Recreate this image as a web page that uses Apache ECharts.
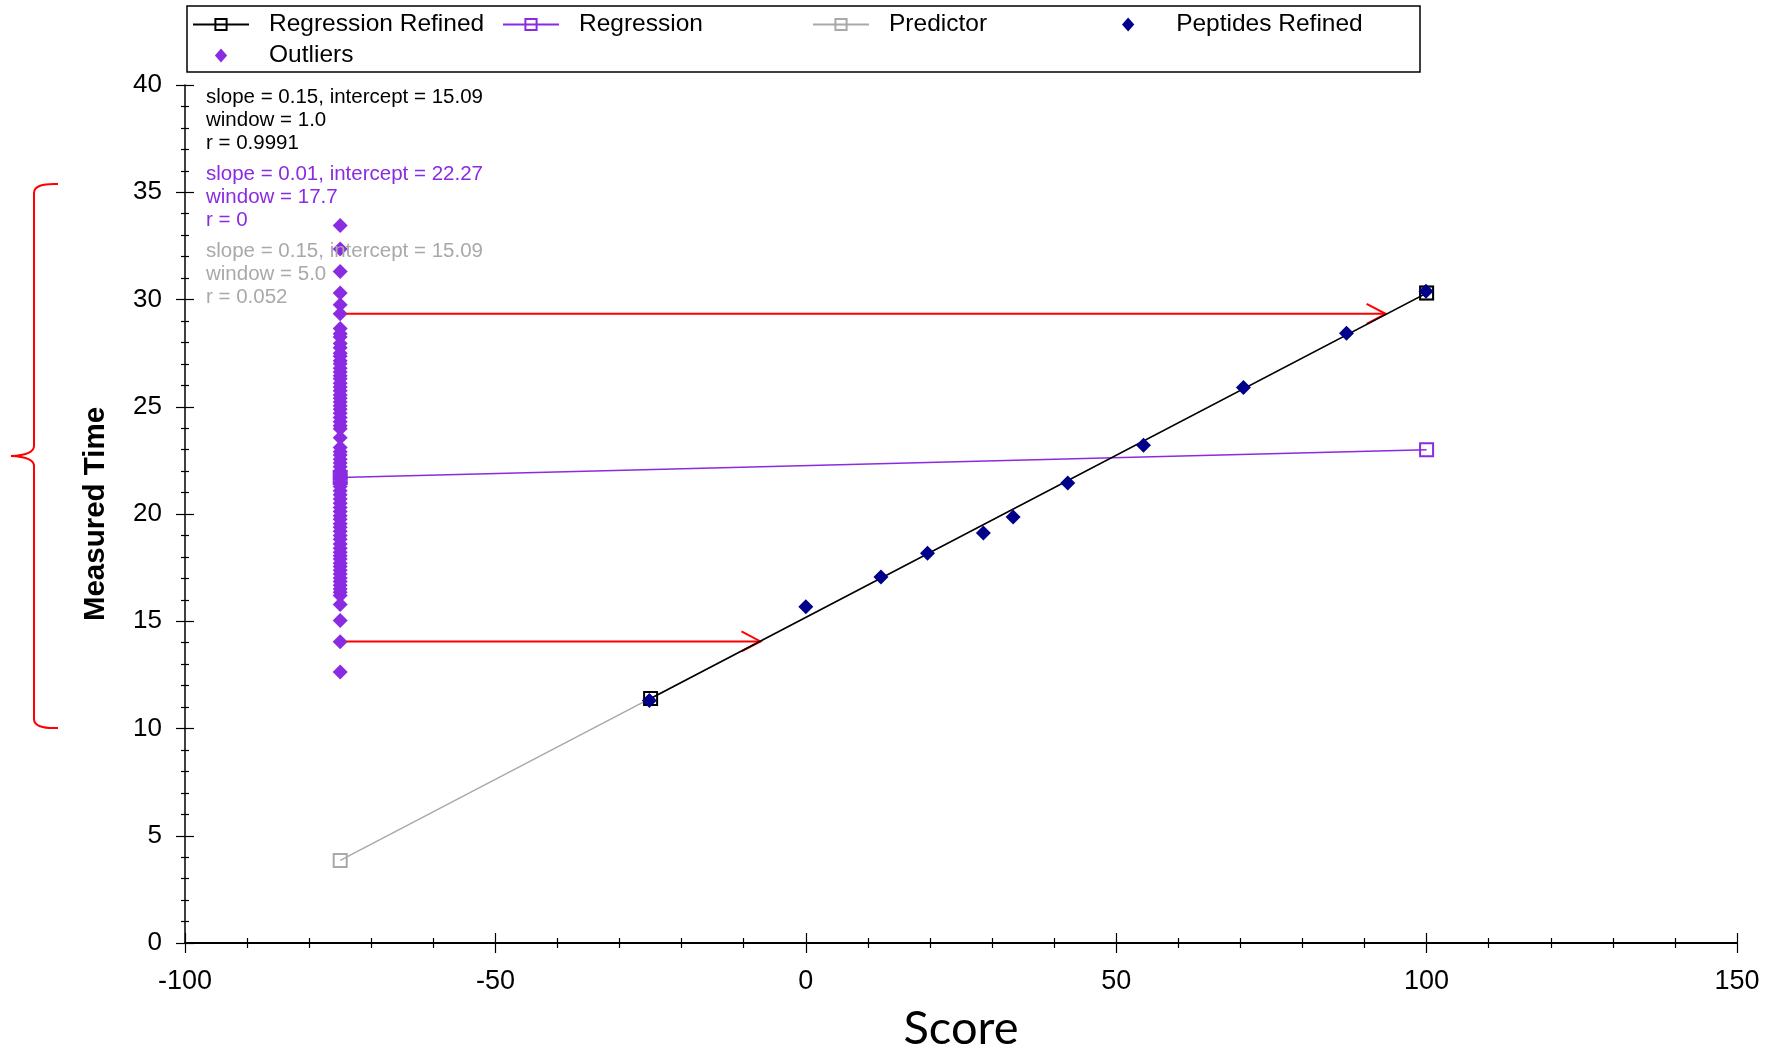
<!DOCTYPE html>
<html>
<head>
<meta charset="utf-8">
<script src="https://cdn.jsdelivr.net/npm/echarts@6/dist/echarts.min.js"></script>
<style>
  html, body { margin: 0; padding: 0; background: #fff; }
  #chart { width: 1781px; height: 1049px; }
</style>
</head>
<body>
<div id="chart"></div>
<script>
// line endpoints [score, time]
const regressionRefined = [[-25, 11.4], [100, 30.3]]
const regression = [[-75, 21.7], [100, 23.0]]
const predictor = [[-75, 3.85], [100, 30.3]]

const peptidesRefined = [
  [-25.2, 11.3], [0, 15.68], [12.1, 17.06], [19.6, 18.17], [28.6, 19.12], [33.4, 19.86],
  [42.2, 21.45], [54.4, 23.2], [70.5, 25.9], [87.1, 28.43], [99.9, 30.38]
]

const outlierX = -75
const outlierTimes = [
  33.45, 32.35, 31.3, 30.3, 29.75, 29.33, 28.65, 28.4, 28.25, 27.95, 27.75, 27.5, 27.35,
  27.15, 27.0, 26.8, 26.62, 26.45, 26.3, 26.1, 25.92, 25.75, 25.55, 25.4, 25.22, 25.05,
  24.88, 24.7, 24.5, 24.3, 24.12, 23.97, 23.55, 23.1, 22.9, 22.75, 22.55, 22.38, 22.2,
  22.0, 21.82, 21.65, 21.45, 21.28, 21.08, 20.9, 20.7, 20.5, 20.3, 20.12, 19.92, 19.75,
  19.55, 19.38, 19.2, 19.0, 18.82, 18.6, 18.4, 18.22, 18.05, 17.9, 17.7, 17.55, 17.38,
  17.2, 17.02, 16.85, 16.68, 16.5, 16.35, 16.2, 15.78, 15.04, 14.04, 12.63
]

// red arrows: [startScore, time, endScore]
const arrows = [[-74, 29.33, 93.4], [-74, 14.06, -7.3]]

const statsBlack = ['slope = 0.15, intercept = 15.09', 'window = 1.0', 'r = 0.9991']
const statsPurple = ['slope = 0.01, intercept = 22.27', 'window = 17.7', 'r = 0']
const statsGray = ['slope = 0.15, intercept = 15.09', 'window = 5.0', 'r = 0.052']

const PURPLE = '#8a2be2'
const NAVY = '#00008b'
const GRAY = '#a9a9a9'
const FONT = '"Liberation Sans", Arial, sans-serif'
const DIAMOND = 'path://M7,0 L14,8 L7,16 L0,8 Z'

const chart = echarts.init(document.getElementById('chart'))

function statText(lines, color, y) {
  return lines.map((t, i) => ({
    type: 'text',
    x: 206,
    y: y + i * 23,
    z: 100,
    style: { text: t, fill: color, font: '20.5px ' + FONT, textVerticalAlign: 'middle' }
  }))
}

function squareLine(name, data, color, z) {
  return {
    name: name,
    type: 'line',
    data: data,
    z: z,
    symbol: 'rect',
    symbolSize: 13,
    lineStyle: { color: color, width: 1.5 },
    itemStyle: { color: 'rgba(0,0,0,0)', borderColor: color, borderWidth: 2 }
  }
}

// curly brace on the left, drawn with quadratic curves and lines
const braceStyle = { fill: null, stroke: '#ff0000', lineWidth: 2 }
const brace = [
  { type: 'bezierCurve', shape: { x1: 58, y1: 184, cpx1: 34, cpy1: 183, x2: 34, y2: 193 }, style: braceStyle },
  { type: 'line', shape: { x1: 34, y1: 193, x2: 34, y2: 446 }, style: braceStyle },
  { type: 'bezierCurve', shape: { x1: 34, y1: 446, cpx1: 34, cpy1: 455, x2: 11, y2: 456 }, style: braceStyle },
  { type: 'bezierCurve', shape: { x1: 11, y1: 456, cpx1: 34, cpy1: 457, x2: 34, y2: 466 }, style: braceStyle },
  { type: 'line', shape: { x1: 34, y1: 466, x2: 34, y2: 719 }, style: braceStyle },
  { type: 'bezierCurve', shape: { x1: 34, y1: 719, cpx1: 34, cpy1: 729, x2: 58, y2: 728 }, style: braceStyle }
]

const tickStyle = { color: '#000', width: 1.2 }

const option = {
  animation: false,
  backgroundColor: '#fff',
  textStyle: { fontFamily: FONT },
  grid: { left: 185, right: 44, top: 85, bottom: 106, containLabel: false, outerBoundsMode: 'none' },
  legend: {
    data: [
      { name: 'Regression Refined' },
      { name: 'Regression' },
      { name: 'Predictor' },
      { name: 'Peptides Refined', icon: DIAMOND },
      { name: 'Outliers', icon: DIAMOND }
    ],
    left: 192,
    top: 12,
    padding: 0,
    width: 1300,
    itemWidth: 56,
    itemHeight: 14,
    itemGap: 6,
    symbolKeepAspect: true,
    textStyle: { fontSize: 24.5, color: '#000', width: 227, lineHeight: 23, padding: [0, 0, 0, 15] }
  },
  xAxis: [
    {
      type: 'value', min: -100, max: 150, interval: 50,
      name: 'Score', nameLocation: 'middle', nameGap: 62,
      nameTextStyle: { fontFamily: 'Lato', fontSize: 47, color: '#000' },
      axisLine: { onZero: false, lineStyle: { color: '#000', width: 2 } },
      axisTick: { length: 10, lineStyle: tickStyle },
      minorTick: { show: true, splitNumber: 5, length: 5, lineStyle: tickStyle },
      axisLabel: { fontSize: 27, color: '#000', margin: 25 },
      splitLine: { show: false }
    },
    {
      type: 'value', min: -100, max: 150, interval: 50, position: 'bottom',
      axisLine: { show: false, onZero: false },
      axisTick: { inside: true, length: 10, lineStyle: tickStyle },
      minorTick: { show: true, splitNumber: 5, length: 5, lineStyle: tickStyle },
      axisLabel: { show: false },
      splitLine: { show: false }
    }
  ],
  yAxis: [
    {
      type: 'value', min: 0, max: 40, interval: 5,
      name: 'Measured Time', nameLocation: 'middle', nameGap: 74, nameRotate: 90,
      nameTextStyle: { fontSize: 29.5, fontWeight: 'bold', color: '#000' },
      axisLine: { onZero: false, lineStyle: { color: '#000', width: 1.5 } },
      axisTick: { length: 9, lineStyle: tickStyle },
      minorTick: { show: true, splitNumber: 5, length: 4, lineStyle: tickStyle },
      axisLabel: { fontSize: 26, color: '#000', margin: 23 },
      splitLine: { show: false }
    },
    {
      type: 'value', min: 0, max: 40, interval: 5, position: 'left',
      axisLine: { show: false, onZero: false },
      axisTick: { inside: true, length: 9, lineStyle: tickStyle },
      minorTick: { show: true, splitNumber: 5, length: 4, lineStyle: tickStyle },
      axisLabel: { show: false },
      splitLine: { show: false }
    }
  ],
  graphic: [
    {
      type: 'rect', z: 50,
      shape: { x: 187, y: 6, width: 1233, height: 66 },
      style: { fill: null, stroke: '#000', lineWidth: 1.5 }
    }
  ].concat(brace)
    .concat(statText(statsBlack, '#000', 97))
    .concat(statText(statsPurple, PURPLE, 174))
    .concat(statText(statsGray, GRAY, 251)),
  series: [
    squareLine('Predictor', predictor, GRAY, 2),
    {
      name: 'Outliers',
      type: 'scatter',
      z: 3,
      symbol: 'diamond',
      symbolSize: 15,
      itemStyle: { color: PURPLE, opacity: 1 },
      data: outlierTimes.map(t => [outlierX, t])
    },
    squareLine('Regression', regression, PURPLE, 4),
    {
      type: 'custom',
      z: 5,
      encode: { x: [0, 2], y: 1 },
      data: arrows,
      renderItem: function (params, api) {
        const s = api.coord([api.value(0), api.value(1)])
        const e = api.coord([api.value(2), api.value(1)])
        return {
          type: 'group',
          children: [
            { type: 'line', shape: { x1: s[0], y1: s[1], x2: e[0], y2: e[1] }, style: { stroke: '#ff0000', lineWidth: 2 } },
            {
              type: 'polyline',
              shape: { points: [[e[0] - 19, e[1] - 10], [e[0], e[1]], [e[0] - 19, e[1] + 10]] },
              style: { stroke: '#ff0000', lineWidth: 2, fill: null }
            }
          ]
        }
      }
    },
    squareLine('Regression Refined', regressionRefined, '#000', 6),
    {
      name: 'Peptides Refined',
      type: 'scatter',
      z: 7,
      symbol: 'diamond',
      symbolSize: 15,
      itemStyle: { color: NAVY, opacity: 1 },
      data: peptidesRefined
    }
  ]
}

chart.setOption(option)
</script>
</body>
</html>
